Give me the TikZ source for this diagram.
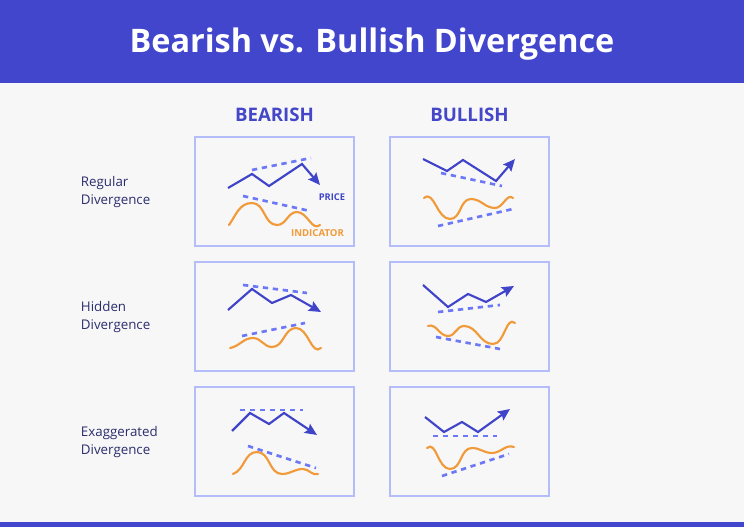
\documentclass[tikz,border=0pt]{standalone}
\usepackage{fontspec}
\setmainfont{Open Sans}
\usetikzlibrary{arrows.meta}

\definecolor{barblue}{RGB}{66,70,204}
\definecolor{headblue}{RGB}{68,72,200}
\definecolor{priceblue}{RGB}{64,68,200}
\definecolor{trendblue}{RGB}{108,120,245}
\definecolor{indorange}{RGB}{240,154,58}
\definecolor{panelline}{RGB}{180,188,250}
\definecolor{pagegray}{RGB}{247,247,247}
\definecolor{labelnavy}{RGB}{43,46,110}

\tikzset{every picture/.style={line width=0.75pt}}
\tikzset{
  panel/.style={draw=panelline,line width=1.6pt,fill=pagegray},
  price/.style={draw=priceblue,line width=1.6pt,line join=miter},
  pricearrow/.style={price,-{Stealth[length=9pt,width=8pt,inset=1.5pt]}},
  trend/.style={draw=trendblue,line width=2pt,dash pattern=on 4pt off 3.5pt},
  indicator/.style={draw=indorange,line width=1.6pt,line cap=round},
  rowlabel/.style={text=labelnavy,font=\fontsize{10}{13}\selectfont,align=left,anchor=west},
  colhead/.style={text=headblue,font=\fontsize{14}{16}\selectfont\bfseries},
}

\begin{document}
\begin{tikzpicture}[x=0.75pt,y=0.75pt,yscale=-1,xscale=1]
	\path[use as bounding box,fill=pagegray] (0,0) rectangle (744,527);

	%Shape: Rectangle [title bar]
	\fill[barblue] (0,0) rectangle (744,83);
	%Shape: Rectangle [bottom bar]
	\fill[barblue] (0,522) rectangle (744,527);

	% Text Node
	\node[text=white,font=\fontsize{24.3}{28}\selectfont\bfseries] (title) at (372,44) {Bearish vs. Bullish Divergence};
	% Text Node
	\node[colhead] (bearish) at (274.5,115) {BEARISH};
	% Text Node
	\node[colhead] (bullish) at (469.5,115) {BULLISH};
	% Text Node
	\node[rowlabel] (regular) at (76,192) {Regular\\Divergence};
	% Text Node
	\node[rowlabel] (hidden) at (76,317) {Hidden\\Divergence};
	% Text Node
	\node[rowlabel] (exagg) at (76,442) {Exaggerated\\Divergence};

	%Shape: Rectangle [panels]
	\foreach \px in {195,390}{
	  \foreach \py in {137,262,387}{
	    \draw[panel] (\px,\py) rectangle ++(159,109);
	  }
	}

	%Regular bearish
	\draw[trend] (252,170) -- (311,158);
	\draw[pricearrow] (228,188) -- (252,174) -- (269,186) -- (302,164) -- (320,185);
	\draw[trend] (243,196) -- (310,211);
	\draw[indicator] (229,225) to[out=-55,in=180] (252,203) to[out=0,in=180] (277,225) to[out=0,in=180] (297,212) to[out=0,in=140] (320,225);
	% Text Node
	\node[text=priceblue,font=\fontsize{7}{8}\selectfont\bfseries] (pricelbl) at (332,197) {PRICE};
	% Text Node
	\node[text=indorange,font=\fontsize{7.2}{8}\selectfont\bfseries] (indlbl) at (317.5,233.5) {INDICATOR};

	%Regular bullish
	\draw[pricearrow] (423,159) -- (447,171) -- (463,160) -- (496,181) -- (515,159);
	\draw[trend] (441,173) -- (502,186);
	\draw[indicator] (424,198) to[out=-40,in=180] (450,219) to[out=0,in=180] (471,199) to[out=0,in=180] (495,208) to[out=0,in=-140] (513,198);
	\draw[trend] (438,226) -- (513,209);

	%Hidden bearish
	\draw[trend] (243,285) -- (307,293);
	\draw[pricearrow] (228,310) -- (252,289) -- (272,303) -- (291,295) -- (321,312);
	\draw[trend] (242,336) -- (305,323);
	\draw[indicator] (230,348) to[out=-10,in=180] (253,338) to[out=0,in=180] (272,347) to[out=0,in=180] (296,328) to[out=0,in=140] (321,348);

	%Hidden bullish
	\draw[pricearrow] (423,285) -- (448,307) -- (468,294) -- (486,302) -- (514,286);
	\draw[trend] (438,312) -- (500,305);
	\draw[indicator] (428,326) to[out=-20,in=180] (448,336) to[out=0,in=180] (464,326) to[out=0,in=180] (493,344) to[out=0,in=-140] (515,323);
	\draw[trend] (436,337) -- (500,349);

	%Exaggerated bearish
	\draw[trend] (240,410) -- (303,410);
	\draw[pricearrow] (232,431) -- (250,413) -- (269,424) -- (284,413) -- (317,435);
	\draw[trend] (248,446) -- (316,468);
	\draw[indicator] (233,474) to[out=-20,in=180] (257,452) to[out=0,in=180] (282,474) to[out=0,in=180] (303,469) to[out=0,in=160] (318,474);

	%Exaggerated bullish
	\draw[trend] (433,436) -- (497,436);
	\draw[pricearrow] (425,417) -- (444,432) -- (462,422) -- (478,432) -- (510,409);
	\draw[indicator] (427,448) to[out=-40,in=180] (450,469) to[out=0,in=180] (472,448) to[out=0,in=180] (492,453) to[out=0,in=-160] (514,447);
	\draw[trend] (442,476) -- (509,454);

\end{tikzpicture}
\end{document}
